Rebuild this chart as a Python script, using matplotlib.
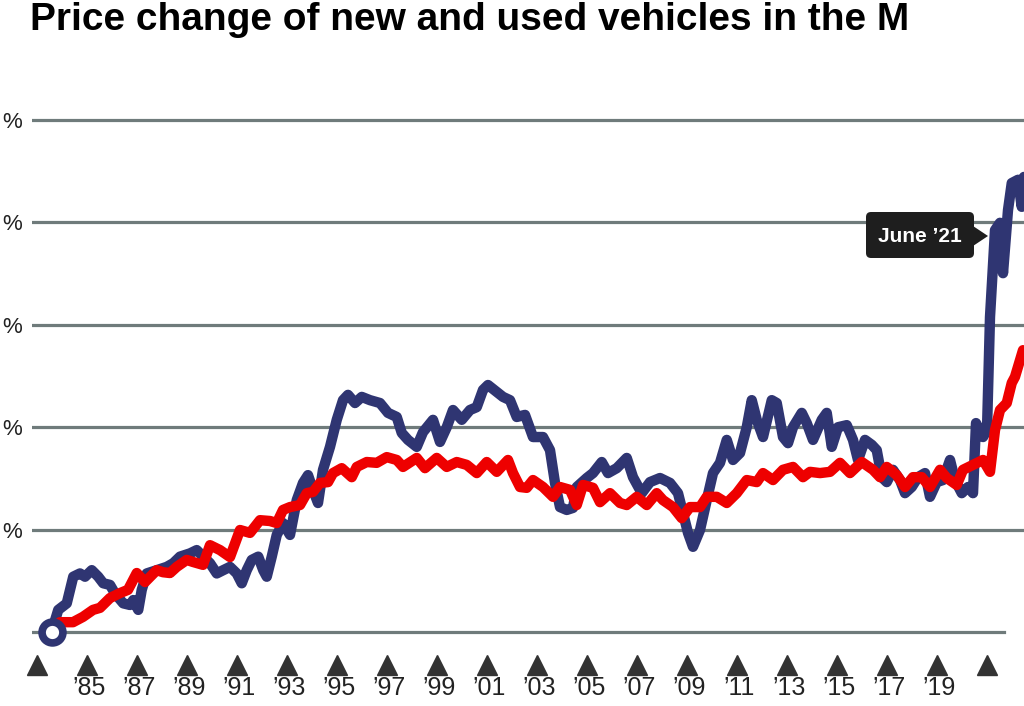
import matplotlib
matplotlib.use("Agg")
import matplotlib.pyplot as plt
from matplotlib.patches import Polygon, FancyBboxPatch

# used vehicles (decimal year, % change since Jan '84)
used_t = [1984.08, 1984.35, 1984.69, 1984.95, 1985.22, 1985.42, 1985.69, 1985.95, 1986.15, 1986.42,
          1986.62, 1986.95, 1987.22, 1987.35, 1987.55, 1987.69, 1987.89, 1988.29, 1988.69, 1988.95,
          1989.22, 1989.62, 1989.89, 1990.15, 1990.42, 1990.69, 1990.95, 1991.22, 1991.49, 1991.69,
          1991.89, 1992.09, 1992.35, 1992.55, 1992.69, 1992.89, 1993.09, 1993.34, 1993.62, 1993.89,
          1994.14, 1994.34, 1994.54, 1994.74, 1994.94, 1995.22, 1995.49, 1995.74, 1995.94, 1996.22,
          1996.49, 1996.82, 1997.22, 1997.54, 1997.89, 1998.09, 1998.34, 1998.69, 1998.94, 1999.34,
          1999.62, 1999.89, 2000.14, 2000.49, 2000.82, 2001.09, 2001.34, 2001.54, 2001.89, 2002.14,
          2002.42, 2002.69, 2003.02, 2003.34, 2003.74, 2004.02, 2004.22, 2004.42, 2004.69, 2004.94,
          2005.09, 2005.49, 2005.74, 2006.09, 2006.34, 2006.69, 2007.09, 2007.34, 2007.69, 2008.02,
          2008.42, 2008.82, 2009.14, 2009.34, 2009.54, 2009.74, 2010.02, 2010.29, 2010.54, 2010.82,
          2011.09, 2011.34, 2011.62, 2011.89, 2012.09, 2012.29, 2012.54, 2012.89, 2013.09, 2013.34,
          2013.54, 2013.74, 2014.09, 2014.29, 2014.54, 2014.89, 2015.09, 2015.29, 2015.54, 2015.89,
          2016.14, 2016.34, 2016.62, 2016.89, 2017.09, 2017.29, 2017.49, 2017.74, 2018.02, 2018.22,
          2018.49, 2018.74, 2019.02, 2019.22, 2019.49, 2019.74, 2020.02, 2020.22, 2020.49, 2020.74,
          2020.94, 2021.06, 2021.34, 2021.50, 2021.62, 2021.82, 2022.02, 2022.14, 2022.34, 2022.49,
          2022.74, 2022.89, 2022.98]
used_v = [0.0, 5.4, 7.0, 13.5, 14.3, 13.5, 15.1, 13.5, 11.9, 11.5,
          9.4, 7.0, 6.6, 7.8, 5.4, 10.3, 14.3, 15.1, 15.9, 16.8,
          18.4, 19.2, 20.0, 18.4, 16.8, 14.3, 15.1, 15.9, 14.3, 11.9,
          15.1, 17.6, 18.4, 15.1, 13.5, 18.4, 23.7, 26.6, 23.7, 32.2,
          36.4, 38.3, 34.7, 31.5, 39.6, 45.2, 51.8, 56.6, 57.9, 55.9,
          57.4, 56.6, 55.9, 53.5, 52.5, 48.6, 46.9, 45.2, 48.8, 51.8,
          46.4, 50.0, 54.2, 51.8, 54.2, 54.9, 59.1, 60.3, 58.6, 57.4,
          56.6, 52.5, 53.0, 47.6, 47.6, 44.4, 36.4, 30.5, 29.8, 30.3,
          35.4, 37.6, 38.8, 41.5, 38.8, 40.0, 42.5, 37.8, 33.9, 36.6,
          37.6, 36.4, 33.9, 29.1, 24.2, 20.8, 24.9, 32.2, 38.8, 41.3,
          46.9, 42.0, 43.7, 50.0, 56.6, 51.8, 47.6, 56.6, 55.9, 47.6,
          46.1, 50.0, 53.5, 51.0, 46.9, 51.8, 53.5, 45.2, 50.0, 50.5,
          46.9, 42.0, 46.9, 45.7, 44.4, 37.8, 36.6, 39.6, 37.1, 33.9,
          35.4, 37.8, 38.8, 33.0, 36.6, 37.1, 42.0, 37.1, 33.9, 35.4,
          33.9, 51.0, 47.6, 49.3, 76.9, 98.1, 99.9, 87.6, 103.0, 109.6,
          110.4, 103.8, 111.1]

# new vehicles
new_t = [1984.08, 1984.42, 1984.94, 1985.34, 1985.74, 1986.02, 1986.42, 1986.82, 1987.14, 1987.49,
         1987.82, 1988.29, 1988.54, 1988.82, 1989.09, 1989.49, 1989.74, 1990.14, 1990.42, 1990.82,
         1991.22, 1991.62, 1992.02, 1992.42, 1992.82, 1993.09, 1993.34, 1993.62, 1994.02, 1994.29,
         1994.54, 1994.82, 1995.14, 1995.34, 1995.69, 1996.09, 1996.29, 1996.69, 1997.09, 1997.49,
         1997.89, 1998.14, 1998.69, 1999.02, 1999.49, 1999.89, 2000.29, 2000.69, 2001.09, 2001.49,
         2001.89, 2002.34, 2002.54, 2002.82, 2003.09, 2003.34, 2003.74, 2004.14, 2004.42, 2004.82,
         2005.09, 2005.34, 2005.74, 2006.02, 2006.42, 2006.82, 2007.09, 2007.49, 2007.89, 2008.29,
         2008.54, 2008.94, 2009.29, 2009.62, 2010.02, 2010.29, 2010.69, 2011.09, 2011.49, 2011.89,
         2012.29, 2012.54, 2012.94, 2013.34, 2013.74, 2014.14, 2014.42, 2014.82, 2015.22, 2015.62,
         2016.02, 2016.49, 2016.94, 2017.22, 2017.49, 2017.89, 2018.22, 2018.54, 2018.89, 2019.22,
         2019.62, 2019.89, 2020.29, 2020.54, 2020.94, 2021.34, 2021.62, 2021.82, 2022.02, 2022.29,
         2022.49, 2022.62, 2022.94]
new_v = [0.0, 2.4, 2.4, 3.7, 5.4, 5.9, 8.3, 9.5, 10.3, 14.4,
         12.2, 15.1, 14.6, 14.4, 15.9, 17.6, 17.1, 16.4, 21.2, 20.0,
         18.3, 24.9, 24.2, 27.3, 27.1, 26.6, 29.8, 30.5, 31.0, 33.9,
         34.2, 36.4, 36.6, 38.8, 40.0, 37.8, 40.3, 41.5, 41.3, 42.7,
         42.0, 40.3, 42.5, 40.0, 42.5, 40.3, 41.5, 40.8, 38.8, 41.5,
         39.1, 42.0, 38.8, 35.4, 35.2, 37.1, 35.4, 33.0, 35.4, 34.7,
         31.0, 35.9, 35.2, 31.7, 33.9, 31.5, 31.0, 33.0, 31.0, 33.9,
         32.2, 30.5, 27.8, 30.5, 30.5, 33.0, 33.0, 31.5, 33.9, 37.1,
         36.6, 38.8, 37.1, 39.6, 40.3, 37.8, 39.1, 38.8, 39.1, 41.3,
         38.8, 41.5, 39.6, 37.8, 40.3, 38.3, 35.4, 37.8, 37.8, 35.4,
         39.6, 37.6, 35.9, 39.6, 40.8, 42.0, 39.1, 49.3, 54.2, 55.9,
         60.8, 62.3, 68.8]

# value labels are lost off the left edge of the source; only the "%" survives
y_ticks = [25, 50, 75, 100, 125]
y_labels = ["%", "%", "%", "%", "%"]
grid_levels = [0, 25, 50, 75, 100, 125]
tick_years = [1983.5 + 2 * i for i in range(20)]
tick_labels = ["", "\u201985", "\u201987", "\u201989", "\u201991", "\u201993", "\u201995", "\u201997",
               "\u201999", "\u201901", "\u201903", "\u201905", "\u201907", "\u201909", "\u201911",
               "\u201913", "\u201915", "\u201917", "\u201919", ""]

NAVY = "#2f3572"
RED = "#ee0000"
GRID = "#6f7b7b"
DARK = "#333333"

plt.rcParams["font.family"] = ["Liberation Sans", "DejaVu Sans"]

W, H = 1024, 706
fig = plt.figure(figsize=(W / 100, H / 100), dpi=100)
ax = fig.add_axes([32 / W, 1 - 640 / H, 992 / W, 540 / H])
ax.set_xlim(1983.3, 2022.98)
ax.set_ylim(-1.95, 129.88)
for s in ax.spines.values():
    s.set_visible(False)

for g in grid_levels:
    ax.axhline(g, color=GRID, lw=2.3, zorder=1, xmax=0.98 if g == 0 else 1)

ax.plot(used_t, used_v, color=NAVY, lw=7.5, solid_joinstyle="round", solid_capstyle="round", zorder=3)
ax.plot(new_t, new_v, color=RED, lw=7.5, solid_joinstyle="round", solid_capstyle="round", zorder=4)
ax.plot([used_t[0]], [used_v[0]], "o", ms=15, mfc="white", mec=NAVY, mew=5.5, zorder=6, clip_on=False)

ax.set_yticks(y_ticks, y_labels)
ax.set_xticks([])
ax.tick_params(axis="y", length=0, pad=7, labelsize=16, labelcolor="#222222")

# triangle ticks + year labels
xt = ax.get_xaxis_transform()
ax.plot(tick_years, [-25 / 540] * len(tick_years), "^", ms=14, color=DARK, transform=xt, clip_on=False)
for yr, lab in zip(tick_years, tick_labels):
    ax.text(yr + 0.08, -48 / 540, lab, transform=xt, ha="center", va="center",
            fontsize=18, color="#222222")

# June '21 callout
box = FancyBboxPatch((866, H - 258), 108, 46, boxstyle="round,pad=0,rounding_size=5",
                     transform=None, fc="#1e1e1e", ec="none", zorder=7)
fig.patches.append(box)
tip = Polygon([[973, H - 226], [988, H - 236], [973, H - 246]], closed=True,
              transform=None, fc="#1e1e1e", ec="none", zorder=7)
fig.patches.append(tip)
fig.text(920 / W, 1 - 236 / H, "June \u201921", ha="center", va="center", color="white",
         fontsize=15, fontweight="bold", zorder=9,
         family=["Liberation Sans Narrow", "Liberation Sans", "DejaVu Sans"])

# title (its left and right ends are lost in the source)
fig.text(30 / W, 1 - 30 / H, "Price change of new and used vehicles in the M",
         ha="left", va="baseline", fontsize=28, fontweight="bold",
         family=["Liberation Sans Narrow", "Liberation Sans", "DejaVu Sans"])

fig.savefig("out.png", dpi=100)
